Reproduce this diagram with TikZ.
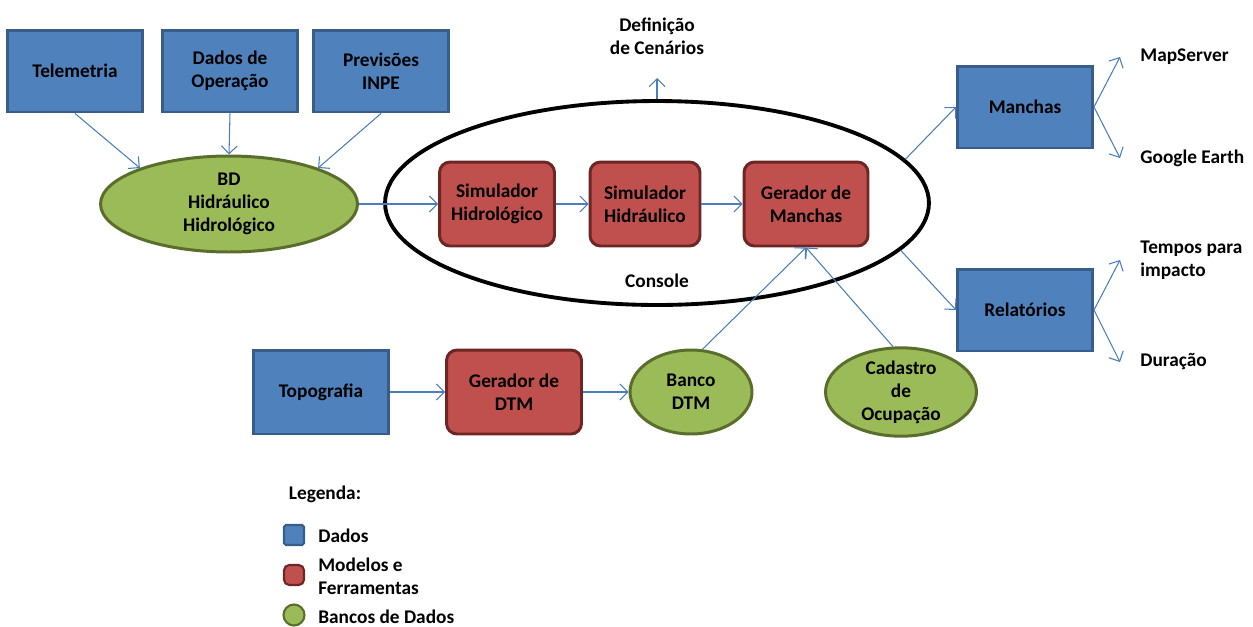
\documentclass[tikz,border=0pt]{standalone}
\usepackage{fontspec}
\setmainfont{Carlito}
\usepackage{tikz}
\usetikzlibrary{shapes,arrows.meta}

\definecolor{dadosfill}{RGB}{79,129,189}
\definecolor{dadosdraw}{RGB}{56,93,138}
\definecolor{modfill}{RGB}{192,80,77}
\definecolor{moddraw}{RGB}{110,38,37}
\definecolor{bdfill}{RGB}{155,187,89}
\definecolor{bddraw}{RGB}{90,110,44}
\definecolor{setacor}{RGB}{74,126,187}

\newcommand{\rotfont}{\fontsize{11}{13}\selectfont\bfseries}

\tikzset{
  dados/.style={rectangle, fill=dadosfill, draw=dadosdraw, line width=1.7pt,
    minimum width=2.7cm, minimum height=1.64cm, align=center, font=\rotfont},
  modelo/.style={rectangle, rounded corners=6pt, fill=modfill, draw=moddraw,
    line width=1.7pt, minimum width=2.3cm, minimum height=1.68cm,
    align=center, font=\rotfont},
  banco/.style={ellipse, fill=bdfill, draw=bddraw, line width=1.7pt,
    inner sep=0pt, align=center, font=\rotfont},
  rotulo/.style={align=center, font=\rotfont},
  saida/.style={anchor=west, align=left, inner xsep=0.4cm, font=\rotfont},
  seta/.style={-{Straight Barb[length=4.5pt,width=9pt]}, draw=setacor,
    line width=0.6pt},
}

\begin{document}
\begin{tikzpicture}[x=0.02cm, y=-0.02cm]

    \useasboundingbox (0,0) rectangle (1253,626);

    % fontes de dados
    \node[dados] (tele) at (75,71) {Telemetria};
    \node[dados] (dop) at (230,71) {Dados de\\Operação};
    \node[dados] (prev) at (381,71) {Previsões\\INPE};
    \node[banco, minimum width=5.14cm, minimum height=1.92cm] (bd) at (229,204)
      {BD\\Hidráulico\\Hidrológico};

    % console
    \node[ellipse, draw=black, line width=2.2pt, minimum width=10.88cm,
      minimum height=4.08cm] (console) at (657,203) {};
    \node[rotulo] (consolelbl) at (657,281) {Console};
    \node[modelo] (shid) at (497,204) {Simulador\\Hidrológico};
    \node[modelo, minimum width=2.2cm] (shdr) at (645,204) {Simulador\\Hidráulico};
    \node[modelo, minimum width=2.48cm] (gman) at (806,204) {Gerador de\\Manchas};

    % definicao de cenarios
    \node[rotulo] (defin) at (657,36) {Definição\\de Cenários};
    \coordinate (defarr) at (657,78);

    % saidas
    \node[dados] (manchas) at (1025,107) {Manchas};
    \node[dados] (relat) at (1025,310) {Relatórios};
    \node[saida] (mapserver) at (1120,57) {MapServer};
    \node[saida] (gearth) at (1120,158) {Google Earth};
    \node[saida] (tempos) at (1120,260) {Tempos para\\impacto};
    \node[saida] (duracao) at (1120,362) {Duração};

    % topografia e ocupacao
    \node[dados, minimum height=1.68cm] (topo) at (321,392) {Topografia};
    \node[modelo, minimum width=2.7cm] (gdtm) at (514,392) {Gerador de\\DTM};
    \node[banco, minimum width=2.44cm, minimum height=1.68cm] (bdtm) at (691,392)
      {Banco\\DTM};
    \node[banco, minimum width=3.02cm, minimum height=1.68cm] (cad) at (901,392)
      {Cadastro\\de\\Ocupação};

    % legenda
    \node[rotulo] (legenda) at (325,494) {Legenda:};
    \node[dados, minimum width=0.4cm, minimum height=0.4cm, line width=1.2pt,
      rounded corners=1pt] (legdados) at (294,535) {};
    \node[modelo, minimum width=0.4cm, minimum height=0.4cm, line width=1.2pt,
      rounded corners=3pt] (legmod) at (294,575) {};
    \node[banco, circle, minimum size=0.42cm, line width=1.2pt] (legbd) at (294,615) {};
    \node[saida, inner xsep=0pt] (legdadostxt) at (318,536) {Dados};
    \node[saida, inner xsep=0pt] (legmodtxt) at (318,576) {Modelos e\\Ferramentas};
    \node[saida, inner xsep=0pt] (legbdtxt) at (318,617) {Bancos de Dados};

    % edges
    \draw[seta] (tele.south) -- (bd.158);
    \draw[seta] (dop.south) -- (bd.north);
    \draw[seta] (prev.south) -- (bd.22);
    \draw[seta] (bd.east) -- (shid.west);
    \draw[seta] (shid.east) -- (shdr.west);
    \draw[seta] (shdr.east) -- (gman.west);
    \draw[seta] (console.north) -- (defarr);
    \draw[seta] (console.10) -- (manchas.west);
    \draw[seta] (console.-11) -- (relat.west);
    \draw[seta] (manchas.east) -- (mapserver.west);
    \draw[seta] (manchas.east) -- (gearth.west);
    \draw[seta] (relat.east) -- (tempos.west);
    \draw[seta] (relat.east) -- (duracao.west);
    \draw[seta] (topo.east) -- (gdtm.west);
    \draw[seta] (gdtm.east) -- (bdtm.west);
    \draw[seta] (bdtm.75) -- (gman.south);
    \draw[seta] (cad.100) -- (gman.south);

  \end{tikzpicture}
\end{document}
